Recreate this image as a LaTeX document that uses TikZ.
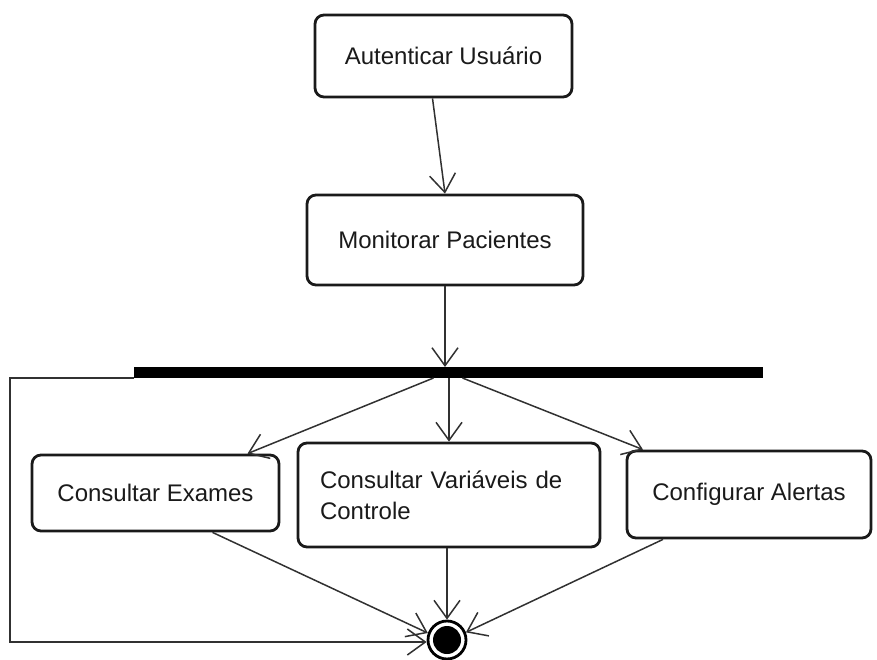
\documentclass[tikz,border=0pt]{standalone}
\usepackage{fontspec}
\setmainfont{Liberation Sans}
\usetikzlibrary{arrows.meta}
\definecolor{ink}{HTML}{1A1A1A}
\begin{document}
\begin{tikzpicture}[x=1pt,y=-1pt,
  activity/.style={draw=ink, line width=2.8pt, rounded corners=9pt, fill=white,
    inner sep=0pt, font=\fontsize{24}{31}\selectfont, text=ink},
  flow/.style={draw=ink!90, line width=1.5pt,
    -{Straight Barb[length=18pt,width=26pt,line width=1.5pt]}}]
\useasboundingbox (0,0) rectangle (877,660);

% activities
\node[activity, minimum width=257pt, minimum height=82pt] (auth) at (443.5,56) {Autenticar Usuário};
\node[activity, minimum width=276pt, minimum height=90pt] (mon) at (445,240) {Monitorar Pacientes};
\node[activity, minimum width=247pt, minimum height=76pt] (ce) at (155.5,493) {Consultar Exames};
\node[activity, minimum width=302pt, minimum height=104pt, align=left, text width=258pt] (cv) at (449,495) {Consultar Variáveis de\\Controle};
\node[activity, minimum width=244pt, minimum height=87pt] (ca) at (749,494.5) {Configurar Alertas};

% fork bar
\node[fill=black, minimum width=629pt, minimum height=11pt, inner sep=0pt, outer sep=0pt] (bar) at (448.5,372.5) {};

% final node
\node[circle, draw=black, line width=2.8pt, minimum size=38pt, inner sep=0pt, outer sep=1.4pt] (final) at (447,640) {};
\fill[black] (final.center) circle (14pt);

% control flows
\draw[flow] ([xshift=-11pt]auth.south) -- (mon.north);
\draw[flow] (mon.south) -- (mon.south |- bar.north);
\draw[flow] ([xshift=-15pt]bar.south) -- ([xshift=92pt]ce.north);
\draw[flow] (bar.south -| cv.north) -- (cv.north);
\draw[flow] ([xshift=14pt]bar.south) -- ([xshift=-106pt]ca.north);
\draw[flow] ([xshift=57pt]ce.south) -- (final.160);
\draw[flow] (cv.south -| final.north) -- (final.north);
\draw[flow] ([xshift=-86pt]ca.south) -- (final.22);
\coordinate (loopa) at (10,378);
\coordinate (loopb) at (10,642);
\draw[flow] (bar.south west) -- (loopa) -- (loopb) -- (final.west |- loopb);
\end{tikzpicture}
\end{document}
